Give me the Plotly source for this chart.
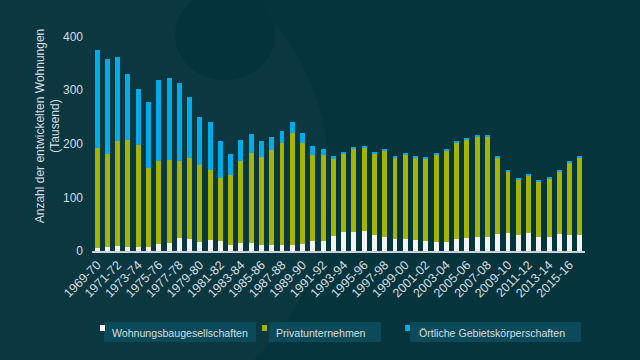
import plotly.graph_objects as go

categories = [
    "1969-70", "1970-71", "1971-72", "1972-73", "1973-74", "1974-75", "1975-76", "1976-77",
    "1977-78", "1978-79", "1979-80", "1980-81", "1981-82", "1982-83", "1983-84", "1984-85",
    "1985-86", "1986-87", "1987-88", "1988-89", "1989-90", "1990-91", "1991-92", "1992-93",
    "1993-94", "1994-95", "1995-96", "1996-97", "1997-98", "1998-99", "1999-00", "2000-01",
    "2001-02", "2002-03", "2003-04", "2004-05", "2005-06", "2006-07", "2007-08", "2008-09",
    "2009-10", "2010-11", "2011-12", "2012-13", "2013-14", "2014-15", "2015-16", "2016-17",
]

wohnungsbau = [6, 7, 10, 8, 8, 8, 14, 15, 24, 22, 17, 20, 19, 12, 15, 15,
               12, 12, 12, 12, 13, 18, 19, 28, 36, 36, 37, 30, 27, 22, 22, 21,
               19, 17, 17, 22, 24, 27, 27, 31, 34, 30, 34, 27, 27, 32, 30, 30]

privat = [187, 174, 196, 200, 190, 146, 154, 155, 144, 152, 144, 132, 117, 129, 153, 167,
          164, 176, 190, 208, 188, 161, 160, 144, 146, 155, 157, 152, 160, 153, 159, 153,
          153, 163, 171, 181, 184, 186, 187, 144, 114, 103, 107, 102, 108, 117, 135, 145]

oertlich = [183, 178, 157, 122, 105, 124, 152, 153, 145, 113, 90, 88, 69, 40, 39, 36,
            30, 25, 22, 21, 19, 17, 11, 5, 3, 3, 2.5, 2.5, 3, 2, 2.5, 2,
            2, 2, 2, 2, 2, 2, 2, 2, 2, 2, 2, 2, 2.5, 2, 2, 3]

series_names = ["Wohnungsbaugesellschaften", "Privatunternehmen", "Örtliche Gebietskörperschaften"]
series_colors = ["#f2f4f4", "#a3b500", "#00abe6"]

y_ticks = [0, 100, 200, 300, 400]
y_title = "Anzahl der entwickelten Wohnungen<br>(Tausend)"

BG = "#05343d"
TEXT = "#d6dde0"
FONT = "Liberation Sans, Arial, sans-serif"

fig = go.Figure()
for name, vals, col in zip(series_names, [wohnungsbau, privat, oertlich], series_colors):
    fig.add_trace(go.Bar(
        x=categories, y=vals, name=name, marker=dict(color=col, line=dict(width=0)),
        showlegend=False,
    ))

# plot area in pixels
L, R, T, B = 92, 55, 1, 109
W, H = 640, 360
pw, ph = W - L - R, H - T - B

def px(x):
    return (x - L) / pw

def py(y):
    return (H - B - y) / ph

shapes = []
annotations = []
# background swirl (lighter region on the left)
shapes.append(dict(type="circle", xref="paper", yref="paper", layer="below",
                   x0=px(-120), x1=px(330), y0=py(420), y1=py(-60),
                   fillcolor="#0b3741", line=dict(width=0)))
shapes.append(dict(type="circle", xref="paper", yref="paper", layer="below",
                   x0=px(175), x1=px(275), y0=py(80), y1=py(-10),
                   fillcolor="#04333c", line=dict(width=0)))

# custom legend
legend_items = [
    (100, 104, 256, 110),
    (262, 269, 381, 274),
    (405, 410, 581, 417),
]
for (mx, bx0, bx1, tx), name, col in zip(legend_items, series_names, series_colors):
    shapes.append(dict(type="rect", xref="paper", yref="paper", layer="above",
                       x0=px(bx0), x1=px(bx1), y0=py(342), y1=py(322),
                       fillcolor="#0b4a58", line=dict(width=0)))
    shapes.append(dict(type="rect", xref="paper", yref="paper", layer="above",
                       x0=px(mx), x1=px(mx + 5), y0=py(331), y1=py(325),
                       fillcolor=col, line=dict(width=0)))
    annotations.append(dict(text=name, xref="paper", yref="paper", x=px(tx), y=py(332.5),
                            xanchor="left", yanchor="middle", showarrow=False,
                            font=dict(size=10.6, color=TEXT, family=FONT)))

fig.update_layout(
    width=W, height=H,
    margin=dict(l=L, r=R, t=T, b=B, autoexpand=False),
    paper_bgcolor=BG, plot_bgcolor="rgba(0,0,0,0)",
    barmode="stack", bargap=0.52,
    font=dict(family=FONT, color=TEXT, size=12),
    shapes=shapes, annotations=annotations,
    xaxis=dict(
        type="category", tickmode="array", tickvals=categories[::2], ticktext=categories[::2],
        tickangle=-45, tickfont=dict(size=12.5, color=TEXT), showgrid=False, automargin=False,
        showline=True, linecolor="#c9d2d4", linewidth=1.5, ticks="",
    ),
    yaxis=dict(
        range=[0, 466.6], tickmode="array", tickvals=y_ticks, showgrid=False, zeroline=False,
        showline=False, ticks="", tickfont=dict(size=12, color=TEXT), ticklabelstandoff=8,
        automargin=False,
        title=dict(text=y_title, font=dict(size=12, color=TEXT), standoff=0),
    ),
)

fig.write_html(
    "out.html",
    config={"displayModeBar": False},
    post_script="document.body.style.margin='0';document.body.style.background='%s';" % BG,
)
